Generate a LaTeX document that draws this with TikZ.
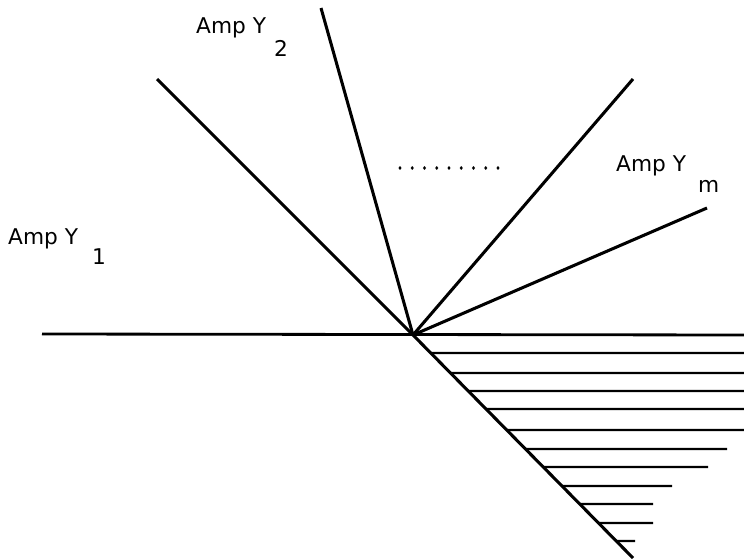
\documentclass[tikz,border=0pt]{standalone}
\usepackage{fontspec}
\setmainfont{DejaVu Sans}
\usetikzlibrary{calc,shapes.geometric}
\newcommand{\lblfont}{\fontsize{18.5}{22}\selectfont}
\tikzset{
  fanplot/.style={font=\lblfont, x=0.03cm, y=-0.03cm},
  % a ray out of the common point
  ray/.style={draw=black, line width=2.6pt},
  % the ground line and its hatching
  ground/.style={draw=black, line width=2.4pt},
  hatch/.style={draw=black, line width=2pt},
  % the amplitude labels and their indices
  amplbl/.style={inner sep=0pt, anchor=base west},
  % one dot of the row of dots
  dotmark/.style={fill=black, inner sep=0pt, minimum width=2.6pt,
                  minimum height=3.4pt, ellipse},
}
\newcommand{\amp}[5]{%
  \node[amplbl] (#1) at (#2,#3) {Amp Y};%
  \node[amplbl] (#1s) at (#4) {#5};%
}

\begin{document}
\begin{tikzpicture}[fanplot]
  \useasboundingbox (0,0) rectangle (744,559);
  % the common point and the free ends of the rays
  \coordinate (o) at (413,335);
  \coordinate (e1) at (157,79);
  \coordinate (e2) at (321,8);
  \coordinate (e3) at (633,79);
  \coordinate (em) at (707,208);
  \coordinate (d) at (633,558);
  \coordinate (gl) at (42,334);
  \coordinate (gr) at (744,335);

  \draw[ground] (gl) -- (gr);
  \foreach \e in {e1,e2,e3,em}
    \draw[ray] (o) -- (\e);
  \draw[ray] (o) -- (d);

  % hatching between the ground line and the slope
  \foreach \y/\xr in {353/744,373/744,391/744,409/744,430/744,449/727,
                      467/708,486/672,504/653,523/653,541/635}
    \draw[hatch] ($(o)!{(\y-335)/223}!(d)$) -- (\xr,\y);

  \amp{a1}{8}{244}{92,264}{1}
  \amp{a2}{196}{33}{274,56}{2}
  \amp{am}{616}{171}{698,192}{m}

  \foreach \i in {0,...,8}
    \node[dotmark] (dot\i) at (400+12.25*\i,168) {};
\end{tikzpicture}
\end{document}
